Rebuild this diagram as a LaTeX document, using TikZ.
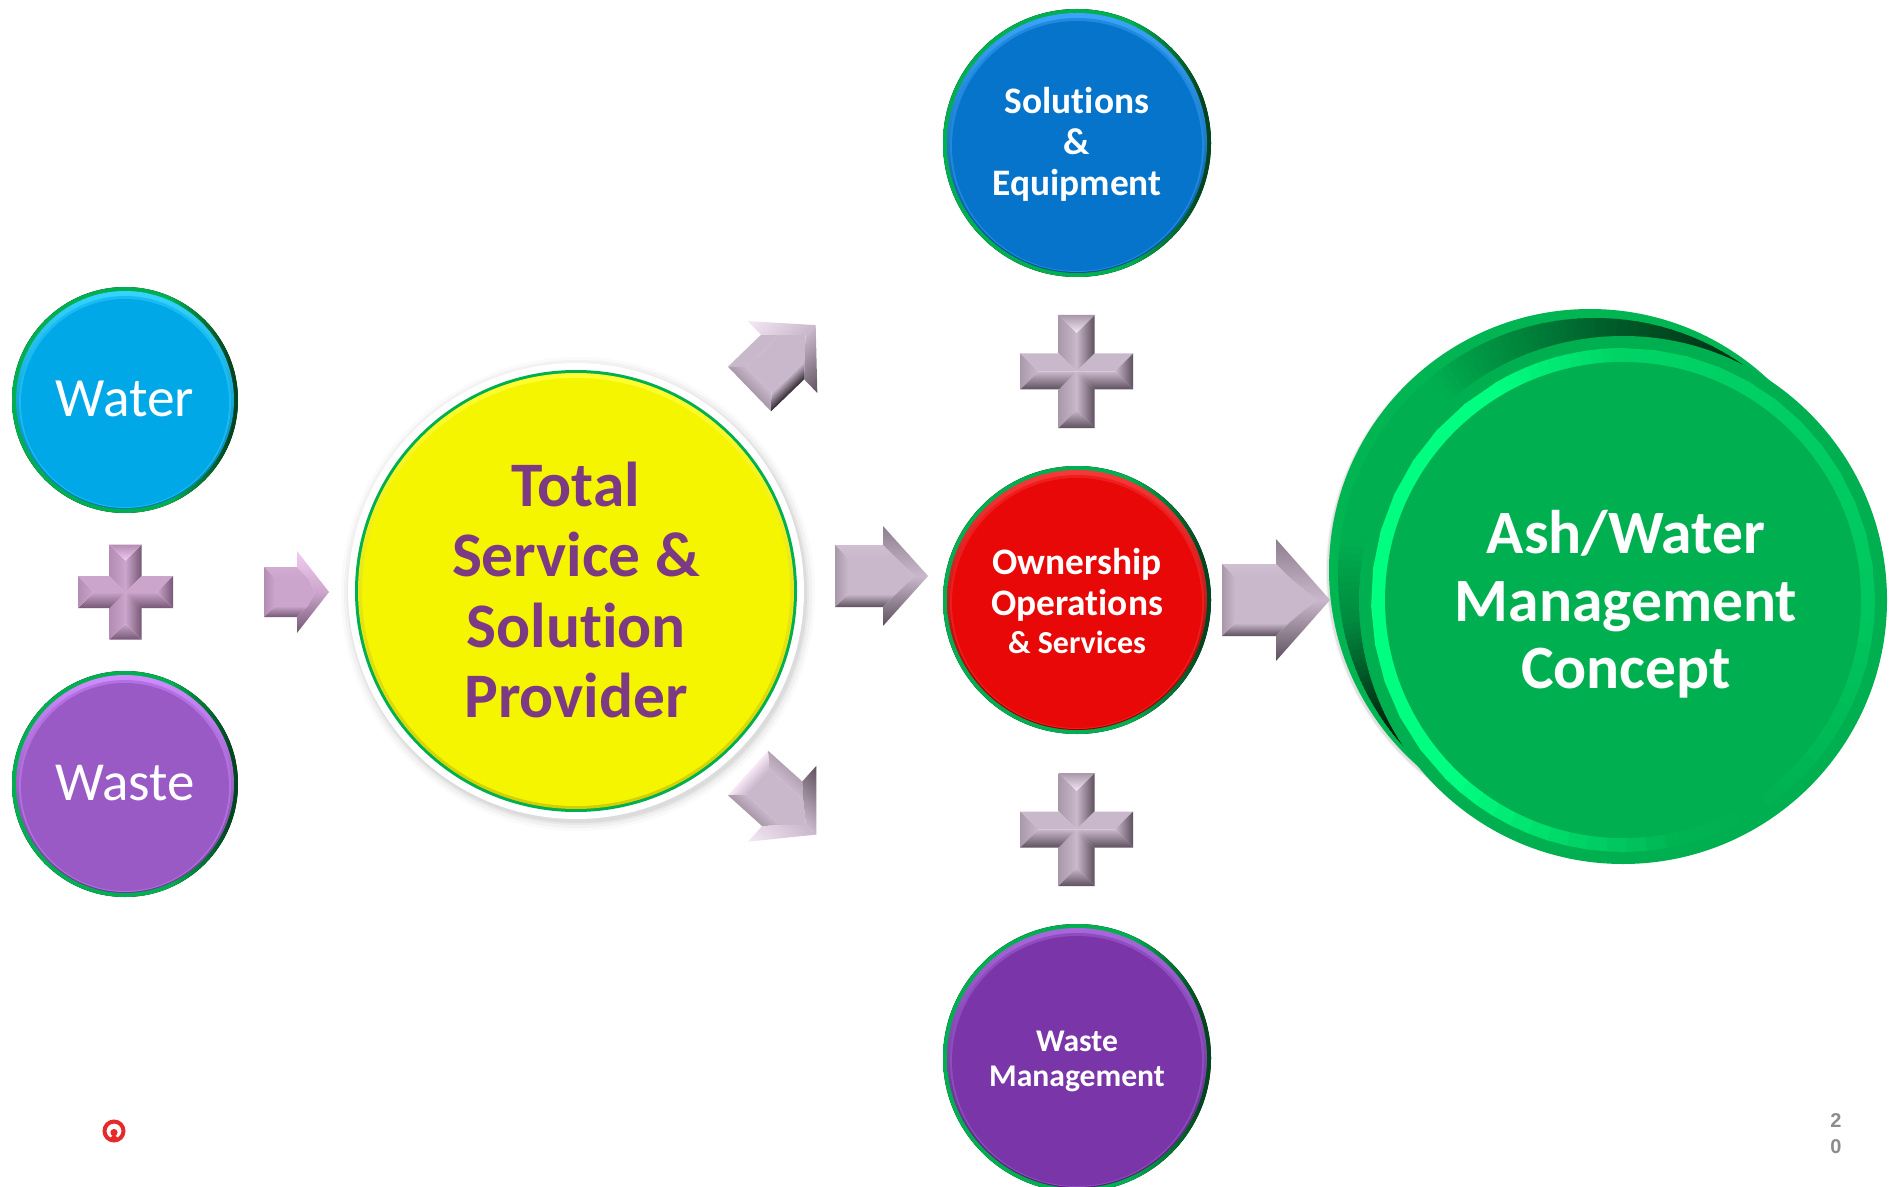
\documentclass[tikz,border=0pt]{standalone}
\usepackage{fontspec}
\setmainfont[Ligatures=NoCommon]{Carlito}
\newfontfamily\numfont{Liberation Sans}
\definecolor{gRim}{HTML}{00B552}
\definecolor{gFlat}{HTML}{00B050}
\definecolor{gDeep}{HTML}{00180A}
\definecolor{gBright}{HTML}{00FF80}
\definecolor{ringDark}{HTML}{00471F}
\definecolor{plumText}{HTML}{7D3A84}
\definecolor{logoRed}{HTML}{E62A2A}
\definecolor{numGray}{HTML}{8C8C8C}
\definecolor{waterF}{HTML}{00A8E8}\definecolor{waterH}{HTML}{35D4FF}\definecolor{waterL}{HTML}{0078B0}
\definecolor{wasteF}{HTML}{9A5AC6}\definecolor{wasteH}{HTML}{D08CFF}\definecolor{wasteL}{HTML}{6A3A90}
\definecolor{blueF}{HTML}{0674CA}\definecolor{blueH}{HTML}{3CA4FA}\definecolor{blueL}{HTML}{044E90}
\definecolor{redF}{HTML}{E80808}\definecolor{redH}{HTML}{F83838}\definecolor{redL}{HTML}{900000}
\definecolor{mgmtF}{HTML}{7A35A8}\definecolor{mgmtH}{HTML}{A868DC}\definecolor{mgmtL}{HTML}{4E2070}
\definecolor{yelF}{HTML}{F5F500}\definecolor{yelH}{HTML}{FFFF30}\definecolor{yelL}{HTML}{D0D000}
\definecolor{grayP}{HTML}{C9B8CB}\definecolor{grayT}{HTML}{F6E8F6}\definecolor{grayL}{HTML}{A898A8}
\definecolor{grayB}{HTML}{5E505E}\definecolor{grayD}{HTML}{2E242E}\definecolor{grayM}{HTML}{8E7E8E}
\definecolor{pinkP}{HTML}{CBA5CB}\definecolor{pinkT}{HTML}{F2CCF4}\definecolor{pinkL}{HTML}{B48CB4}
\definecolor{pinkB}{HTML}{765876}
\pgfdeclarehorizontalshading{ringshade}{100bp}{color(0bp)=(gFlat); color(25bp)=(gFlat); color(60bp)=(gFlat); color(73bp)=(ringDark); color(75bp)=(ringDark); color(100bp)=(ringDark)}
\tikzset{
  disctext/.style={circle,inner sep=0pt,align=center,text=white},
}
% x, y, R, fill, highlight, lowlight
\newcommand{\discbase}[6]{%
  \fill[shading=ringshade] (#1,#2) circle (#3);
  \shade[top color=#5,middle color=#4,bottom color=#6] (#1,#2) circle ({#3-4});
  \fill[#4!55!#5] (#1,{#2+2}) circle ({#3-7});
  \fill[#4] (#1,{#2+3}) circle ({#3-9});
}
% x y rot xh xt h H b
\newcommand{\bevelarrow}[8]{%
  \begin{scope}[transform canvas={shift={(#1,#2)},rotate=#3}]
    \fill[aP] (#8,{-#6+#8}) -- ({#4+#8},{-#6+#8}) -- ({#5-14},0) -- ({#4+#8},{#6-#8}) -- (#8,{#6-#8}) -- cycle;
    \shade[top color=aP!85!aT,middle color=aT,bottom color=aP] (0,-#6) -- (#4,-#6) -- ({#4+#8},{-#6+#8}) -- (#8,{-#6+#8}) -- cycle;
    \shade[left color=aL,right color=aP] (0,-#6) -- (#8,{-#6+#8}) -- (#8,{#6-#8}) -- (0,#6) -- cycle;
    \shade[top color=aP,bottom color=aB] (0,#6) -- (#4,#6) -- ({#4+#8},{#6-#8}) -- (#8,{#6-#8}) -- cycle;
    \shade[top color=aHT,bottom color=aP] (#4,-#6) -- (#4,-#7) -- (#5,0) -- ({#5-14},0) -- ({#4+#8},{-#6+#8}) -- cycle;
    \shade[top color=aP,bottom color=aHB] (#4,#6) -- (#4,#7) -- (#5,0) -- ({#5-14},0) -- ({#4+#8},{#6-#8}) -- cycle;
  \end{scope}
}
\newcommand{\palette}[6]{\colorlet{aT}{#1}\colorlet{aL}{#2}\colorlet{aB}{#3}\colorlet{aHT}{#4}\colorlet{aHB}{#5}\colorlet{aP}{#6}}
% cx cy a w
\newcommand{\bevelcross}[4]{%
  \begin{scope}[shift={(#1,#2)}]
    \shade[left color=aL,right color=aP] (-#4,-#3) -- (0,{-#3+#4}) -- (0,0) -- (-#4,-#4) -- cycle;
    \shade[left color=aP,middle color=aP,right color=aB] (#4,-#3) -- (0,{-#3+#4}) -- (0,0) -- (#4,-#4) -- cycle;
    \shade[left color=aL,right color=aP] (-#4,#3) -- (0,{#3-#4}) -- (0,0) -- (-#4,#4) -- cycle;
    \shade[left color=aP,middle color=aP,right color=aB] (#4,#3) -- (0,{#3-#4}) -- (0,0) -- (#4,#4) -- cycle;
    \shade[top color=aP,middle color=aT,bottom color=aP] (-#3,-#4) -- ({-#3+#4},0) -- (0,0) -- (-#4,-#4) -- cycle;
    \shade[top color=aP,middle color=aT,bottom color=aP] (#3,-#4) -- ({#3-#4},0) -- (0,0) -- (#4,-#4) -- cycle;
    \shade[top color=aP,bottom color=aB] (-#3,#4) -- ({-#3+#4},0) -- (0,0) -- (-#4,#4) -- cycle;
    \shade[top color=aP,bottom color=aB] (#3,#4) -- ({#3-#4},0) -- (0,0) -- (#4,#4) -- cycle;
    \shade[top color=aL,bottom color=aT] (-#4,-#3) -- (#4,-#3) -- (0,{-#3+#4}) -- cycle;
    \shade[top color=aP,bottom color=aB] (-#4,#3) -- (#4,#3) -- (0,{#3-#4}) -- cycle;
    \shade[left color=aL,right color=aP] (-#3,-#4) -- (-#3,#4) -- ({-#3+#4},0) -- cycle;
    \shade[left color=aP,right color=aB] (#3,-#4) -- (#3,#4) -- ({#3-#4},0) -- cycle;
  \end{scope}
}
\begin{document}
\begin{tikzpicture}[x=0.5pt,y=-0.5pt]
\useasboundingbox (0,0) rectangle (1889,1187);
\clip (0,0) rectangle (1889,1187);
\fill[white] (0,0) rectangle (1889,1187);

% Left discs
\discbase{125}{400}{113}{waterF}{waterH}{waterL}
\node[disctext,font=\fontsize{27.7}{33}\selectfont] (water) at (125,399) {Water};
\discbase{125}{784}{113}{wasteF}{wasteH}{wasteL}
\node[disctext,font=\fontsize{27.5}{33}\selectfont] (waste) at (125,783) {Waste};

% Yellow disc with soft shadow and white border
\foreach \r/\o in {237/.02,234/.03,231/.04,229/.05}{\fill[black,opacity=\o] (578,594) circle (\r);}
\fill[white] (576,591) circle (228);
\fill[gFlat] (576,591) circle (221);
\shade[top color=yelH,middle color=yelF,bottom color=yelL] (576,591) circle (218);
\fill[yelF] (576,592) circle (214);
\node[circle,inner sep=0pt,align=center,text=plumText,font=\fontsize{31.7}{35.2}\selectfont\bfseries] (provider) at (576,590) {Total\\Service \&\\Solution\\Provider};

% Middle column discs
\discbase{1077}{143}{134}{blueF}{blueH}{blueL}
\node[disctext,font=\fontsize{18.7}{20.5}\selectfont\bfseries] (solutions) at (1077,144.5) {Solutions\\\&\\Equipment};
\discbase{1077}{600}{134}{redF}{redH}{redL}
\node[disctext,font=\fontsize{18.7}{20.5}\selectfont\bfseries] (ownership) at (1077,601) {Ownership\\Operations\\[-1.5pt]{\fontsize{16}{18}\selectfont \& Services}};
\discbase{1077}{1058}{134}{mgmtF}{mgmtH}{mgmtL}
\node[disctext,font=\fontsize{15.8}{17.5}\selectfont\bfseries] (mgmt) at (1077,1061) {Waste\\Management};

% Ash/Water disc
\foreach \r/\o in {262/.05,261/.07}{\fill[black,opacity=\o] (1588,572) circle (\r);}
\fill[gRim] (1590,570) circle (261);
\begin{scope}
  \clip (1595,575) circle (257);
  \foreach \aa/\ab/\va/\vb in {40/60/0/20,60/90/20/50,90/110/50/75,110/130/75/100,130/170/100/100,170/190/100/75,190/205/75/35,205/218/35/0,218/232/0/0}{
    \foreach \i in {0,...,11}{
      \pgfmathsetmacro\aone{\aa+(\ab-\aa)*\i/12}
      \pgfmathsetmacro\atwo{\aone+(\ab-\aa)/12+0.6}
      \pgfmathsetmacro\mixv{\va+(\vb-\va)*\i/12}
      \colorlet{wedgec}{gFlat!\mixv!gDeep}
      \fill[wedgec] (1595,575) -- ({1595+300*cos(\aone)},{575-300*sin(\aone)}) -- ({1595+300*cos(\atwo)},{575-300*sin(\atwo)}) -- cycle;
    }
  }
\end{scope}
\fill[gFlat] (1623,600) circle (264);
\foreach \aa/\ab/\va/\vb in {-60/0/0/30,0/90/30/45,90/120/45/100,120/225/100/100,225/280/100/5,280/300/5/0}{
  \foreach \i in {0,...,11}{
    \pgfmathsetmacro\aone{\aa+(\ab-\aa)*\i/12}
    \pgfmathsetmacro\atwo{\aone+(\ab-\aa)/12+0.4}
    \pgfmathsetmacro\mixv{\va+(\vb-\va)*\i/12}
    \colorlet{ringc}{gBright!\mixv!gFlat}
    \draw[ringc,line width=7pt] ({1623+245*cos(\aone)},{600-245*sin(\aone)}) -- ({1623+245*cos(\atwo)},{600-245*sin(\atwo)});
  }
}
\fill[gFlat] (1623,600) circle (238);
\node[disctext,font=\fontsize{30.8}{33.8}\selectfont\bfseries] (concept) at (1626,604.5) {Ash/Water\\Management\\Concept};

% Crosses
\palette{pinkT}{pinkL}{pinkB}{pinkT}{pinkB}{pinkP}
\bevelcross{125.5}{592}{47.5}{16}
\palette{grayT}{grayL}{grayB}{grayT}{grayB}{grayP}
\bevelcross{1076.5}{371.5}{56.5}{18}
\bevelcross{1076.5}{829.5}{56.5}{18}

% Arrows
\palette{pinkT}{pinkL}{pinkB}{pinkT}{pinkB}{pinkP}
\bevelarrow{264}{592}{0}{33}{65}{25}{41}{11}
\palette{grayT}{grayL}{grayB}{grayM}{grayB}{grayP}
\bevelarrow{835}{576}{0}{48}{93}{31}{50}{13}
\bevelarrow{1222}{600}{0}{54}{108}{36}{61}{13}
\palette{grayP}{grayL}{grayD}{grayT}{grayB}{grayP}
\bevelarrow{749.5}{389}{44}{46}{92}{31}{50}{13}
\palette{grayD}{grayT}{grayL}{grayB}{grayT}{grayP}
\bevelarrow{748}{773}{-42}{46}{92}{30}{51}{13}

% Logo
\draw[logoRed,line width=2pt] (114,1131) circle (9.5);
\begin{scope}
  \clip (114,1131) circle (10);
  \fill[logoRed] (114,1132.5) circle (3.6);
  \fill[logoRed] (114,1133) -- (108,1142) -- (120,1142) -- cycle;
\end{scope}

% Page number
\node[inner sep=0pt,align=center,text=numGray,font=\fontsize{10}{13}\selectfont\numfont\bfseries] (pagenum) at (1836,1134) {2\\0};
\end{tikzpicture}
\end{document}
